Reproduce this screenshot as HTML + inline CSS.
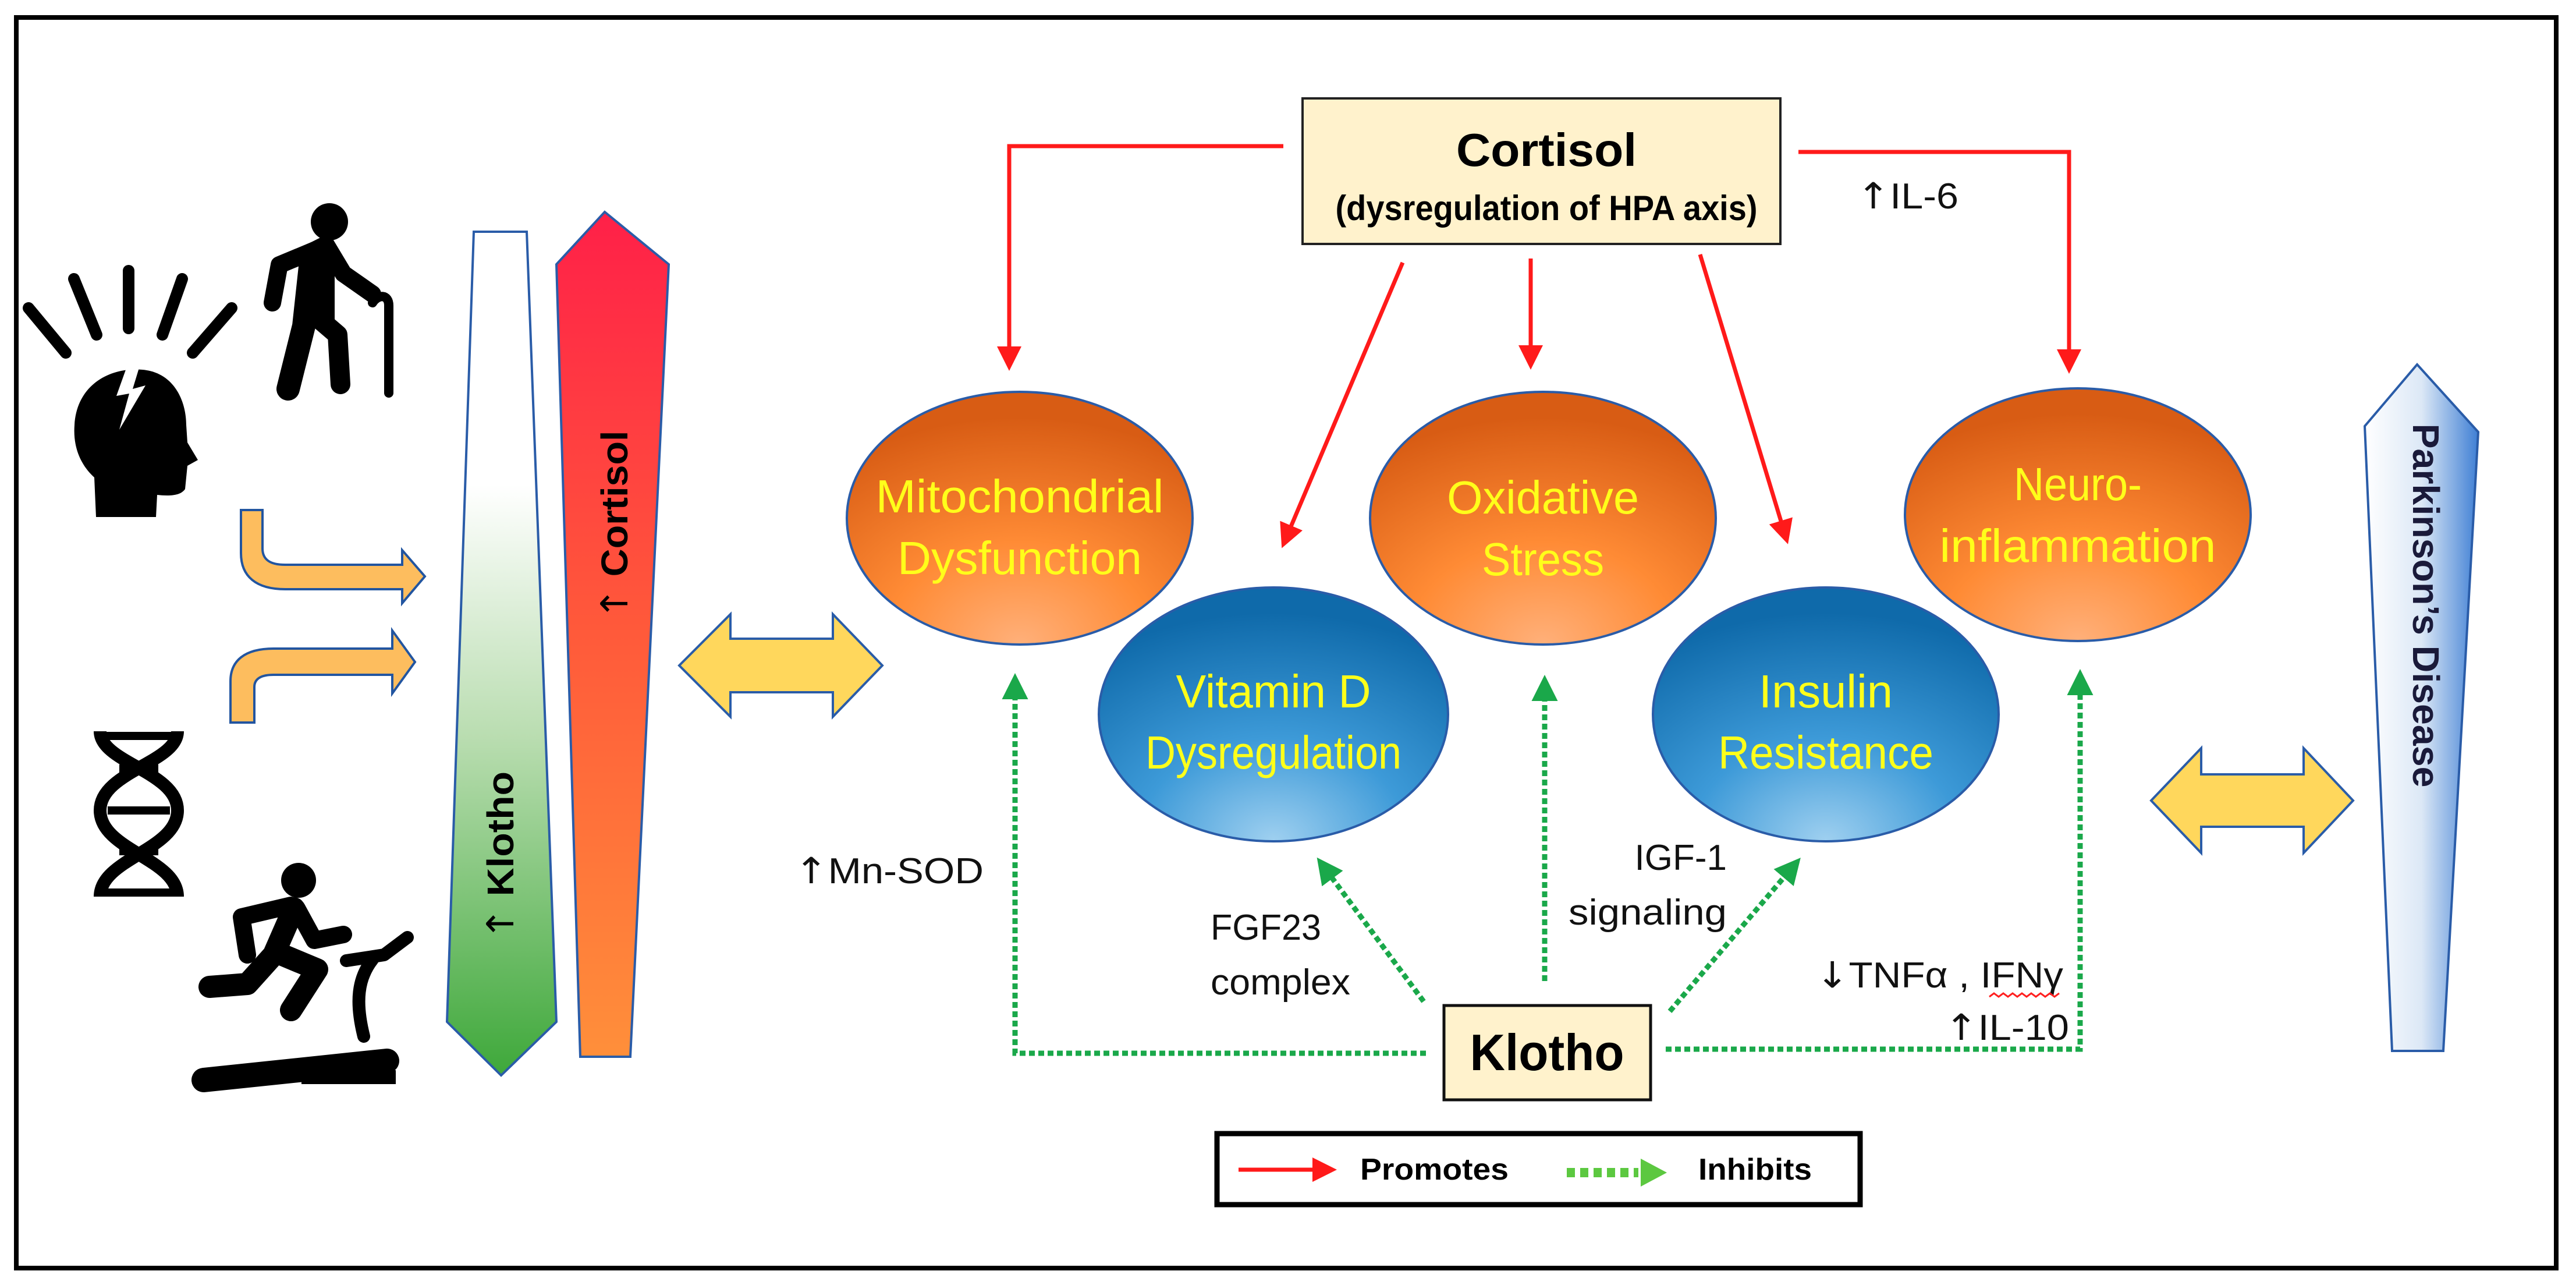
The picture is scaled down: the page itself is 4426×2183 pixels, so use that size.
<!DOCTYPE html>
<html><head><meta charset="utf-8"><style>html,body{margin:0;padding:0;background:#fff}svg{display:block}.ar{font-family:"DejaVu Sans",sans-serif;font-weight:normal}</style></head>
<body>
<svg width="4426" height="2183" viewBox="0 0 4426 2183" xmlns="http://www.w3.org/2000/svg" font-family="Liberation Sans, sans-serif">
<defs>
<linearGradient id="gK" x1="0" y1="0" x2="0" y2="1"><stop offset="0" stop-color="#fff"/><stop offset="0.3" stop-color="#fff"/><stop offset="0.6" stop-color="#b9ddb0"/><stop offset="1" stop-color="#3ea83a"/></linearGradient>
<linearGradient id="gC" x1="0" y1="0" x2="0" y2="1"><stop offset="0" stop-color="#ff2048"/><stop offset="0.5" stop-color="#ff5a3a"/><stop offset="1" stop-color="#ff8f3a"/></linearGradient>
<linearGradient id="gP" x1="0" y1="0" x2="1" y2="0"><stop offset="0" stop-color="#fff"/><stop offset="0.5" stop-color="#dce8f6"/><stop offset="1" stop-color="#3f7fd4"/></linearGradient>
<radialGradient id="gO" cx="0.5" cy="0.95" r="0.85" fx="0.5" fy="1"><stop offset="0" stop-color="#ffb07a"/><stop offset="0.45" stop-color="#ff8b35"/><stop offset="1" stop-color="#d85c14"/></radialGradient>
<radialGradient id="gB" cx="0.5" cy="0.95" r="0.85" fx="0.5" fy="1"><stop offset="0" stop-color="#9fd0f0"/><stop offset="0.45" stop-color="#3d9ad8"/><stop offset="1" stop-color="#0f6aaa"/></radialGradient>
<marker id="mr" markerWidth="6" markerHeight="6" refX="5" refY="3" orient="auto" markerUnits="strokeWidth"><path d="M0,0 L6,3 L0,6 z" fill="#ff1a1a"/></marker>
<marker id="mg" markerWidth="5" markerHeight="5" refX="4" refY="2.5" orient="auto" markerUnits="strokeWidth"><path d="M0,0 L5,2.5 L0,5 z" fill="#1aa84a"/></marker>
</defs>
<rect width="4426" height="2183" fill="#fff"/>
<rect x="28" y="30" width="4364" height="2148" fill="none" stroke="#000" stroke-width="8"/>

<!-- head icon -->
<g stroke="#000" stroke-width="20" stroke-linecap="round">
<line x1="49" y1="529" x2="113" y2="606"/><line x1="127" y1="479" x2="166" y2="575"/><line x1="221" y1="465" x2="221" y2="564"/><line x1="313" y1="479" x2="279" y2="575"/><line x1="398" y1="529" x2="331" y2="606"/>
</g>
<path d="M165,888 L162,820 C140,800 125,770 128,730 C132,660 190,630 245,635 C300,640 320,690 320,730 L322,760 L340,790 L322,800 L318,840 C310,852 290,852 270,850 L268,888 Z" fill="#000"/>
<path d="M225,610 L200,680 L222,676 L205,738 L250,662 L228,668 L245,612 Z" fill="#fff"/>
<!-- old person -->
<circle cx="566" cy="381" r="32" fill="#000"/>
<g stroke="#000" stroke-linecap="round" stroke-linejoin="round" fill="none">
<path d="M540,430 L480,455 L468,520" stroke-width="30"/>
<path d="M540,430 L560,420 L590,470 L640,505" stroke-width="30"/>
<path d="M535,440 L522,560 L495,668" stroke-width="40"/>
<path d="M545,545 L580,575 L585,660" stroke-width="34"/>
<path d="M640,520 C650,505 668,505 668,525 L668,675" stroke-width="16"/>
</g>
<path d="M520,440 L575,430 L575,560 L520,560 Z" fill="#000"/>
<!-- DNA -->
<g fill="none" stroke="#000" stroke-width="22">
<path d="M172,1256 C172,1310 305,1325 305,1392 C305,1460 172,1475 172,1540"/>
<path d="M305,1256 C305,1310 172,1325 172,1392 C172,1460 305,1475 305,1540"/>
</g>
<g stroke="#000" stroke-width="14"><line x1="175" y1="1264" x2="302" y2="1264"/><line x1="205" y1="1320" x2="272" y2="1320"/><line x1="185" y1="1392" x2="292" y2="1392"/><line x1="205" y1="1462" x2="272" y2="1462"/><line x1="175" y1="1533" x2="302" y2="1533"/></g>
<!-- runner -->
<circle cx="513" cy="1512" r="30" fill="#000"/>
<g stroke="#000" stroke-linecap="round" stroke-linejoin="round" fill="none">
<path d="M500,1555 L415,1575 L425,1640" stroke-width="30"/>
<path d="M510,1560 L540,1615 L590,1605" stroke-width="30"/>
<path d="M505,1560 L470,1640 L425,1690 L360,1695" stroke-width="38"/>
<path d="M485,1640 L545,1665 L500,1735" stroke-width="38"/>
<path d="M595,1650 L660,1640 L700,1610" stroke-width="22"/>
<path d="M640,1648 C615,1680 610,1720 625,1780" stroke-width="22"/>
<path d="M350,1855 L665,1822" stroke-width="42"/>
</g>
<path d="M518,1850 L680,1838 L680,1862 L518,1862 Z" fill="#000"/>
<!-- orange bent arrows -->
<path d="M414,876 L451,876 L451,942 C451,962 465,970 490,970 L691,970 L691,945 L730,990 L691,1036 L691,1012 L490,1012 C440,1012 414,990 414,950 Z" fill="#fdbd5e" stroke="#2255a0" stroke-width="4"/>
<path d="M396,1241 L437,1241 L437,1180 C437,1165 450,1159 470,1159 L674,1159 L674,1191 L713,1137 L674,1083 L674,1114 L470,1114 C420,1114 396,1135 396,1170 Z" fill="#fdbd5e" stroke="#2255a0" stroke-width="4"/>

<!-- Klotho bar -->
<path d="M814,398 L905,398 L956,1755 L861,1847 L768,1755 Z" fill="url(#gK)" stroke="#2a5ca8" stroke-width="4"/>
<text transform="translate(882,1470) rotate(-90)" text-anchor="middle" font-size="64" font-weight="bold" textLength="290" lengthAdjust="spacingAndGlyphs"><tspan class="ar">↑</tspan> Klotho</text>
<!-- Cortisol bar -->
<path d="M1039,364 L1149,454 L1083,1815 L997,1815 L956,454 Z" fill="url(#gC)" stroke="#2a5ca8" stroke-width="4"/>
<text transform="translate(1078,902) rotate(-90)" text-anchor="middle" font-size="64" font-weight="bold" textLength="325" lengthAdjust="spacingAndGlyphs"><tspan class="ar">↑</tspan> Cortisol</text>
<!-- yellow double arrows -->
<path d="M1167,1143 L1255,1055 L1255,1097 L1431,1097 L1431,1055 L1516,1143 L1431,1231 L1431,1189 L1255,1189 L1255,1231 Z" fill="#ffd75c" stroke="#2a5ca8" stroke-width="4"/>
<path d="M3696,1375 L3782,1285 L3782,1330 L3958,1330 L3958,1285 L4043,1375 L3958,1465 L3958,1420 L3782,1420 L3782,1465 Z" fill="#ffd75c" stroke="#2a5ca8" stroke-width="4"/>
<!-- Parkinson bar -->
<path d="M4153,626 L4258,742 L4198,1805 L4110,1805 L4063,732 Z" fill="url(#gP)" stroke="#2a5ca8" stroke-width="4"/>
<text transform="translate(4146,1040) rotate(90)" text-anchor="middle" font-size="64" font-weight="bold" fill="#1a1a3a" textLength="625" lengthAdjust="spacingAndGlyphs">Parkinson’s Disease</text>

<!-- Cortisol box -->
<rect x="2238" y="169" width="821" height="250" fill="#fff2cc" stroke="#222" stroke-width="4"/>
<text x="2657" y="285" text-anchor="middle" font-size="80" font-weight="bold" textLength="310" lengthAdjust="spacingAndGlyphs">Cortisol</text>
<text x="2657" y="378" text-anchor="middle" font-size="60" font-weight="bold" textLength="725" lengthAdjust="spacingAndGlyphs">(dysregulation of HPA axis)</text>

<!-- red arrows -->
<g stroke="#ff1a1a" stroke-width="7" fill="none" marker-end="url(#mr)">
<path d="M2205,251 L1734,251 L1734,630"/>
<path d="M3090,261 L3555,261 L3555,635"/>
<path d="M2410,451 L2205,935"/>
<path d="M2630,444 L2630,628"/>
<path d="M2921,437 L3070,928"/>
</g>

<!-- ellipses -->
<g stroke="#2a5ca8" stroke-width="4">
<ellipse cx="1752" cy="890" rx="297" ry="217" fill="url(#gO)"/>
<ellipse cx="2651" cy="890" rx="297" ry="217" fill="url(#gO)"/>
<ellipse cx="3570" cy="884" rx="297" ry="217" fill="url(#gO)"/>
<ellipse cx="2188" cy="1227" rx="300" ry="218" fill="url(#gB)"/>
<ellipse cx="3137" cy="1227" rx="297" ry="218" fill="url(#gB)"/>
</g>
<g fill="#ffff1a" font-size="80" text-anchor="middle">
<text x="1752" y="880" textLength="495" lengthAdjust="spacingAndGlyphs">Mitochondrial</text>
<text x="1752" y="986" textLength="420" lengthAdjust="spacingAndGlyphs">Dysfunction</text>
<text x="2651" y="882" textLength="330" lengthAdjust="spacingAndGlyphs">Oxidative</text>
<text x="2651" y="988" textLength="210" lengthAdjust="spacingAndGlyphs">Stress</text>
<text x="3570" y="859" textLength="220" lengthAdjust="spacingAndGlyphs">Neuro-</text>
<text x="3570" y="965" textLength="475" lengthAdjust="spacingAndGlyphs">inflammation</text>
<text x="2188" y="1215" textLength="335" lengthAdjust="spacingAndGlyphs">Vitamin D</text>
<text x="2188" y="1320" textLength="440" lengthAdjust="spacingAndGlyphs">Dysregulation</text>
<text x="3137" y="1215" textLength="230" lengthAdjust="spacingAndGlyphs">Insulin</text>
<text x="3137" y="1320" textLength="370" lengthAdjust="spacingAndGlyphs">Resistance</text>
</g>

<!-- green dotted -->
<g stroke="#1aa84a" stroke-width="9" fill="none" stroke-dasharray="10,6" marker-end="url(#mg)">
<path d="M2450,1809 L1744,1809 L1744,1165"/>
<path d="M2862,1802 L3574,1802 L3574,1158"/>
<path d="M2654,1685 L2654,1168"/>
<path d="M2446,1720 L2268,1480"/>
<path d="M2869,1737 L3088,1480"/>
</g>

<!-- Klotho box -->
<rect x="2481" y="1727" width="355" height="162" fill="#fff2cc" stroke="#111" stroke-width="5"/>
<text x="2658" y="1838" text-anchor="middle" font-size="88" font-weight="bold" textLength="265" lengthAdjust="spacingAndGlyphs">Klotho</text>

<!-- labels -->
<g font-size="62" fill="#111">
<text x="3190" y="358" textLength="175" lengthAdjust="spacingAndGlyphs"><tspan class="ar">↑</tspan>IL-6</text>
<text x="1365" y="1517" textLength="325" lengthAdjust="spacingAndGlyphs"><tspan class="ar">↑</tspan>Mn-SOD</text>
<text x="2080" y="1614" textLength="190" lengthAdjust="spacingAndGlyphs">FGF23</text>
<text x="2080" y="1708" textLength="240" lengthAdjust="spacingAndGlyphs">complex</text>
<text x="2967" y="1494" text-anchor="end">IGF-1</text>
<text x="2967" y="1588" text-anchor="end" textLength="272" lengthAdjust="spacingAndGlyphs">signaling</text>
<text x="3120" y="1696" textLength="425" lengthAdjust="spacingAndGlyphs"><tspan class="ar">↓</tspan>TNFα , IFNγ</text>
<text x="3341" y="1786" textLength="214" lengthAdjust="spacingAndGlyphs"><tspan class="ar">↑</tspan>IL-10</text>
</g>
<path d="M3418,1712 l8,-6 l8,6 l8,-6 l8,6 l8,-6 l8,6 l8,-6 l8,6 l8,-6 l8,6 l8,-6 l8,6 l8,-6 l8,6 l8,-6" stroke="#ff2020" stroke-width="3" fill="none"/>

<!-- legend -->
<rect x="2091" y="1947" width="1105" height="122" fill="#fff" stroke="#000" stroke-width="9"/>
<line x1="2128" y1="2009" x2="2290" y2="2009" stroke="#ff1a1a" stroke-width="7" marker-end="url(#mr)"/>
<text x="2337" y="2026" font-size="52" font-weight="bold" textLength="255" lengthAdjust="spacingAndGlyphs">Promotes</text>
<line x1="2692" y1="2014" x2="2815" y2="2014" stroke="#5cc840" stroke-width="16" stroke-dasharray="14,9"/>
<path d="M2819,1990 L2864,2014 L2819,2038 Z" fill="#5cc840"/>
<text x="2918" y="2026" font-size="52" font-weight="bold" textLength="195" lengthAdjust="spacingAndGlyphs">Inhibits</text>
</svg>
</body></html>
